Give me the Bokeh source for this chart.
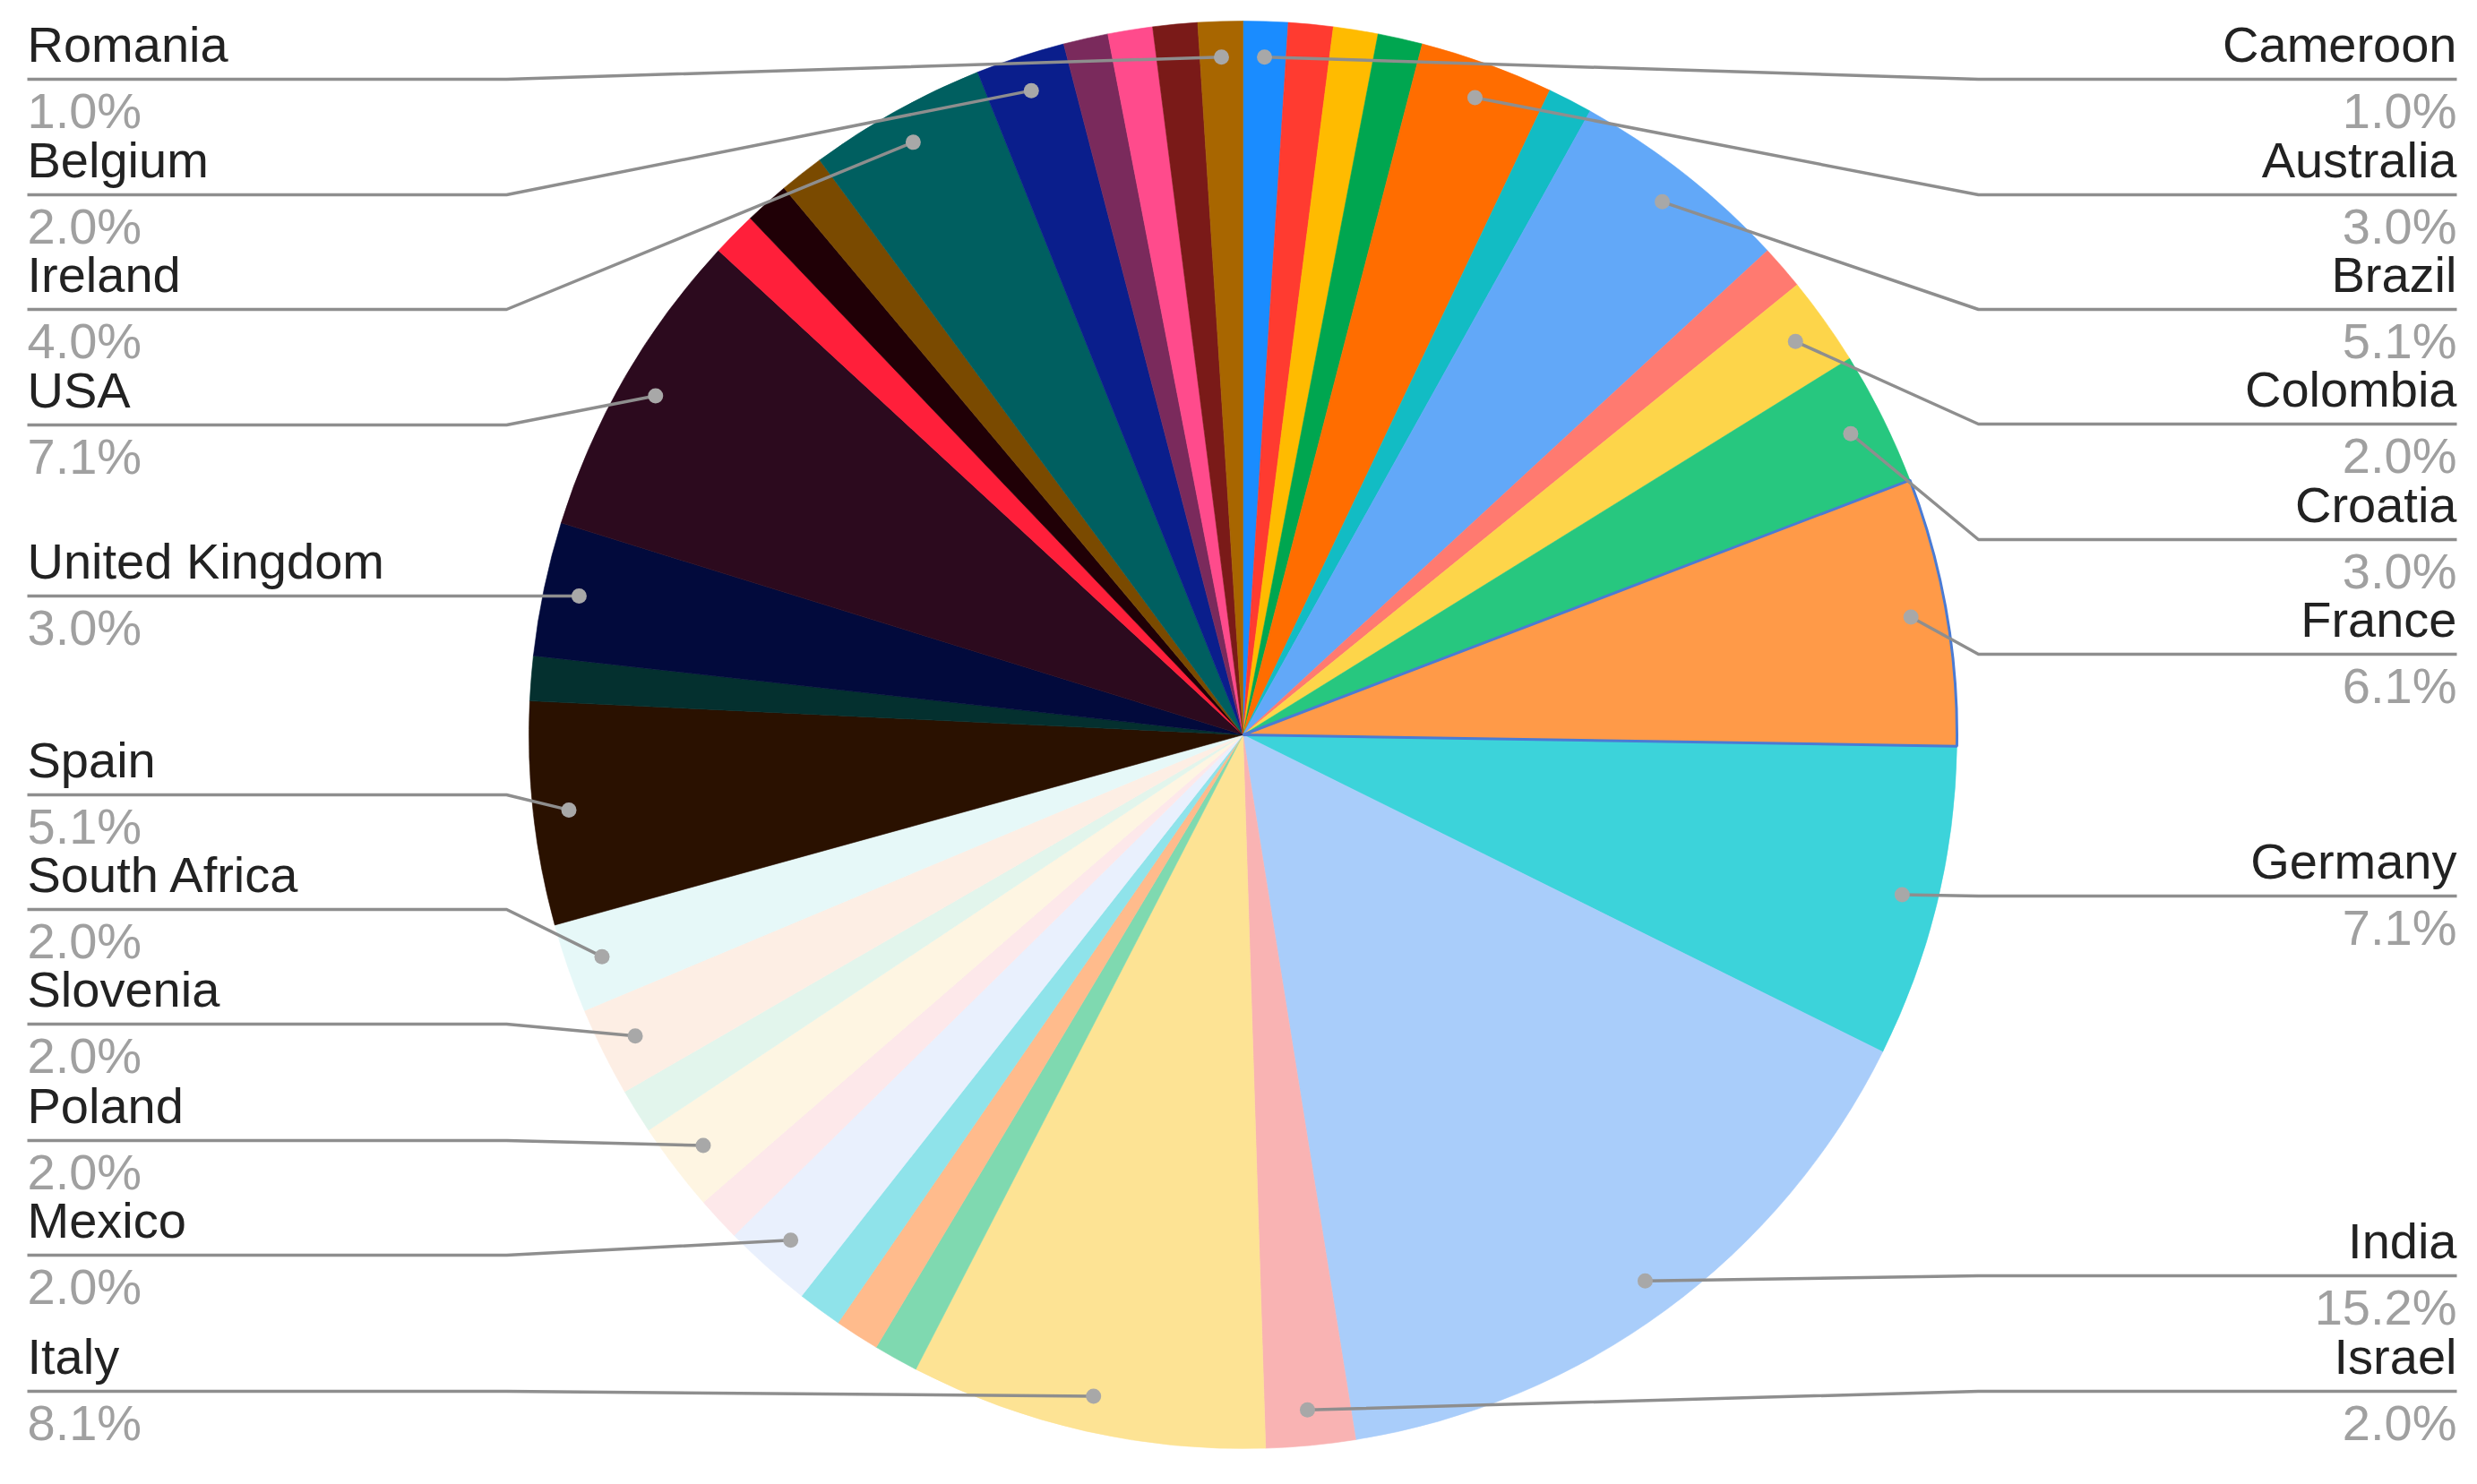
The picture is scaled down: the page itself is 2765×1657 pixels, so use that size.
import math
from bokeh.plotting import figure
from bokeh.models import Range1d, ColumnDataSource
from bokeh.core.properties import value
from bokeh.embed import file_html
from bokeh.resources import INLINE

# ---------------- data ----------------
countries = ["Cameroon", "", "", "", "Australia", "", "Brazil", "", "Colombia", "Croatia",
             "France", "Germany", "India", "Israel", "Italy", "", "", "", "Mexico", "",
             "Poland", "", "Slovenia", "South Africa", "Spain", "", "United Kingdom", "USA",
             "", "", "", "Ireland", "Belgium", "", "", "", "Romania"]
counts = [1, 1, 1, 1, 3, 1, 5, 1, 2, 3,
          6, 7, 15, 2, 8, 1, 1, 1, 2, 1,
          2, 1, 2, 2, 5, 1, 3, 7,
          1, 1, 1, 4, 2, 1, 1, 1, 1]
colors = ["#1a8cff", "#ff3b30", "#ffbb00", "#00a650", "#ff6d00", "#12bcc4", "#62a8f8", "#ff7a70",
          "#fdd54a", "#27c77f", "#ff9a48", "#3cd3da", "#a9cdfa", "#f9b3b3", "#fde394", "#7fd9b0",
          "#ffbb8c", "#8fe3ea", "#e9f0fd", "#fde8ea", "#fef5e2", "#e2f5ec", "#fdeee4", "#e6f8f8",
          "#2a1100", "#04302f", "#020a3c", "#2c0a1e", "#ff1f3a", "#200006", "#7a4a00", "#005f60",
          "#0a1e8c", "#7a2a5c", "#ff4b8c", "#7a1a18", "#a86600"]
highlighted = "France"

# ---------------- layout (screen pixels) ----------------
W, H = 2765, 1657
M = 8
CX, CY = 1387, 820          # pie centre
R = 797                     # pie radius
DOT_R = 0.95 * R
LEFT_X, LEFT_ELBOW = 30, 565
RIGHT_X, RIGHT_ELBOW = 2742, 2208
NAME_DY, PCT_DY = -39, 35   # text baselines relative to leader line
label_line_y = {
    "Romania": 88, "Belgium": 217, "Ireland": 345, "USA": 474, "United Kingdom": 665,
    "Spain": 887, "South Africa": 1015, "Slovenia": 1143, "Poland": 1273, "Mexico": 1401,
    "Italy": 1553,
    "Cameroon": 88, "Australia": 217, "Brazil": 345, "Colombia": 473, "Croatia": 602,
    "France": 730, "Germany": 1000, "India": 1424, "Israel": 1553,
}

def dy(Y):
    return H - Y

total = sum(counts)
cum = 0
starts, ends, mids = [], [], []
for c in counts:
    a0 = math.pi / 2 - 2 * math.pi * cum / total
    cum += c
    a1 = math.pi / 2 - 2 * math.pi * cum / total
    starts.append(a0)
    ends.append(a1)
    mids.append((a0 + a1) / 2)

p = figure(width=W - 2 * M, height=H - 2 * M, output_backend="svg", toolbar_location=None,
           x_range=Range1d(0, W - 2 * M), y_range=Range1d(2 * M, H),
           x_axis_location=None, y_axis_location=None, min_border=0)
p.grid.visible = False
p.outline_line_color = None
p.background_fill_color = "white"
p.border_fill_color = "white"

cy = dy(CY)
src = ColumnDataSource(dict(start=starts, end=ends, color=colors))
p.wedge(x=CX, y=cy, radius=R, start_angle="start", end_angle="end", direction="clock",
        fill_color="color", line_color="color", line_width=0.6, source=src)

# highlighted slice outline
hi = countries.index(highlighted)
p.wedge(x=CX, y=cy, radius=R, start_angle=starts[hi], end_angle=ends[hi], direction="clock",
        fill_color=colors[hi], line_color="#4a7bd4", line_width=3)

# leaders and labels
xs, ys, dxs, dys = [], [], [], []
lx, ly, ltxt, rx, ry, rtxt = [], [], [], [], [], []
plx, ply, pltxt, prx, pry, prtxt = [], [], [], [], [], []
for name, c, m in zip(countries, counts, mids):
    if not name:
        continue
    px = CX + DOT_R * math.cos(m)
    py = cy + DOT_R * math.sin(m)
    L = label_line_y[name]
    pct = "%.1f%%" % (100.0 * c / total)
    right = math.cos(m) > 0
    if right:
        xs.append([RIGHT_X, RIGHT_ELBOW, px])
        rx.append(RIGHT_X); ry.append(dy(L + NAME_DY)); rtxt.append(name)
        prx.append(RIGHT_X); pry.append(dy(L + PCT_DY)); prtxt.append(pct)
    else:
        xs.append([LEFT_X, LEFT_ELBOW, px])
        lx.append(LEFT_X); ly.append(dy(L + NAME_DY)); ltxt.append(name)
        plx.append(LEFT_X); ply.append(dy(L + PCT_DY)); pltxt.append(pct)
    ys.append([dy(L), dy(L), py])
    dxs.append(px); dys.append(py)

p.multi_line(xs=xs, ys=ys, line_color="#8e8e8e", line_width=3.5)
p.scatter(x=dxs, y=dys, size=17, fill_color="#a8a8a8", line_color=None)

font = value("Liberation Sans")
p.text(x=lx, y=ly, text=ltxt, text_align="left", text_baseline="alphabetic",
       text_font=font, text_font_size="56px", text_color="#222222")
p.text(x=rx, y=ry, text=rtxt, text_align="right", text_baseline="alphabetic",
       text_font=font, text_font_size="56px", text_color="#222222")
p.text(x=plx, y=ply, text=pltxt, text_align="left", text_baseline="alphabetic",
       text_font=font, text_font_size="56px", text_color="#a0a0a0")
p.text(x=prx, y=pry, text=prtxt, text_align="right", text_baseline="alphabetic",
       text_font=font, text_font_size="56px", text_color="#a0a0a0")

open("out.html", "w").write(file_html(p, INLINE))
